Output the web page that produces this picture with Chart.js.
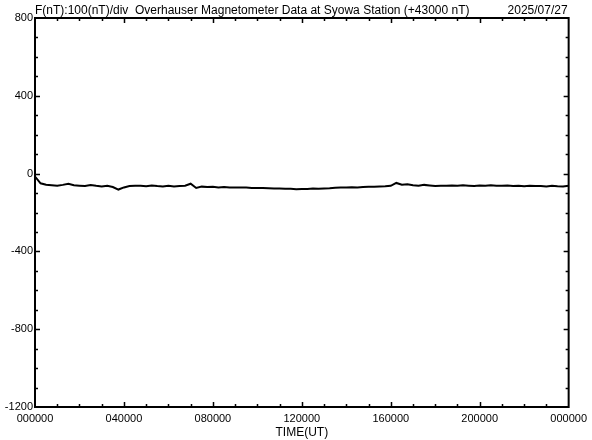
<!DOCTYPE html>
<html>
<head>
<meta charset="utf-8">
<script src="https://cdn.jsdelivr.net/npm/chart.js@4.4.0/dist/chart.umd.min.js"></script>
<style>
  html, body { margin: 0; padding: 0; background: #fff; }
  #wrap { width: 592px; height: 440px; }
</style>
</head>
<body>
<div id="wrap"><canvas id="magChart" width="592" height="440"></canvas></div>
<script>
// F (nT) minus 43000, sampled every 15 minutes through the UT day
const sampleStepHours = 0.25;
const fValues = [
  -15, -50, -57, -60,
  -63, -58, -52, -60,
  -62, -64, -59, -63,
  -66, -63, -69, -82,
  -71, -64, -62, -63,
  -65, -61, -64, -66,
  -63, -66, -64, -62,
  -52, -74, -67, -69,
  -68, -71, -69, -72,
  -71, -72, -72, -74,
  -74, -74, -75, -77,
  -76, -78, -78, -80,
  -79, -79, -77, -78,
  -76, -75, -73, -72,
  -72, -70, -71, -69,
  -68, -67, -66, -65,
  -63, -48, -57, -55,
  -60, -63, -58, -61,
  -64, -62, -63, -61,
  -63, -60, -62, -64,
  -61, -63, -60, -62,
  -63, -61, -64, -62,
  -65, -63, -64, -64,
  -66, -63, -65, -66,
  -63
];
const times = fValues.map((_, i) => i * sampleStepHours);

const xTickLabels = ['000000', '040000', '080000', '120000', '160000', '200000', '000000'];
const yTickLabels = { '800': '800', '400': '400', '0': '0', '-400': '-400', '-800': '-800', '-1200': '-1200' };

const titleText = 'F(nT):100(nT)/div  Overhauser Magnetometer Data at Syowa Station (+43000 nT)';
const dateText = '2025/07/27';
const xAxisText = 'TIME(UT)';

// frame, inward tick marks and header texts
const framePlugin = {
  id: 'frame',
  afterDraw(chart) {
    const { ctx, chartArea: a, scales } = chart;
    const x = scales.x, y = scales.y;
    ctx.save();
    ctx.strokeStyle = '#000';
    ctx.lineWidth = 2;
    ctx.strokeRect(a.left, a.top, a.right - a.left, a.bottom - a.top);

    ctx.lineWidth = 1.5;
    ctx.beginPath();
    for (let h = 1; h < 24; h++) {
      const px = Math.round(x.getPixelForValue(h)) + 0.5;
      const len = h % 4 === 0 ? 5 : 3;
      ctx.moveTo(px, a.bottom); ctx.lineTo(px, a.bottom - len);
      ctx.moveTo(px, a.top); ctx.lineTo(px, a.top + len);
    }
    for (let v = -1100; v < 800; v += 100) {
      const py = Math.round(y.getPixelForValue(v)) + 0.5;
      const len = v % 400 === 0 ? 5 : 3;
      ctx.moveTo(a.left, py); ctx.lineTo(a.left + len, py);
      ctx.moveTo(a.right, py); ctx.lineTo(a.right - len, py);
    }
    ctx.stroke();

    ctx.fillStyle = '#000';
    ctx.font = '12px "Liberation Sans", Arial, sans-serif';
    ctx.textBaseline = 'alphabetic';
    ctx.textAlign = 'left';
    ctx.fillText(titleText, a.left, 14);
    ctx.textAlign = 'right';
    ctx.fillText(dateText, a.right - 1, 14);
    ctx.textAlign = 'center';
    ctx.fillText(xAxisText, (a.left + a.right) / 2, 436);
    ctx.restore();
  }
};

const chart = new Chart(document.getElementById('magChart').getContext('2d'), {
  type: 'line',
  data: {
    datasets: [{
      data: times.map((t, i) => ({ x: t, y: fValues[i] })),
      borderColor: '#000',
      borderWidth: 2,
      pointRadius: 0,
      tension: 0,
      fill: false
    }]
  },
  options: {
    responsive: false,
    animation: false,
    layout: { padding: { top: 18, right: 23, left: 0, bottom: 0 } },
    plugins: { legend: { display: false }, tooltip: { enabled: false } },
    scales: {
      x: {
        type: 'linear',
        min: 0,
        max: 24,
        grid: { display: false, drawTicks: false },
        border: { display: false },
        afterFit(scale) { scale.height = 33; },
        ticks: {
          stepSize: 4,
          padding: 5,
          maxRotation: 0,
          color: '#000',
          font: { family: '"Liberation Sans", Arial, sans-serif', size: 11 },
          callback: (v) => xTickLabels[v / 4]
        }
      },
      y: {
        min: -1200,
        max: 800,
        grid: { display: false, drawTicks: false },
        border: { display: false },
        afterFit(scale) { scale.width = 35; },
        ticks: {
          stepSize: 400,
          padding: 2,
          color: '#000',
          font: { family: '"Liberation Sans", Arial, sans-serif', size: 11 },
          callback: (v) => yTickLabels[String(v)]
        }
      }
    }
  },
  plugins: [framePlugin]
});
</script>
</body>
</html>
